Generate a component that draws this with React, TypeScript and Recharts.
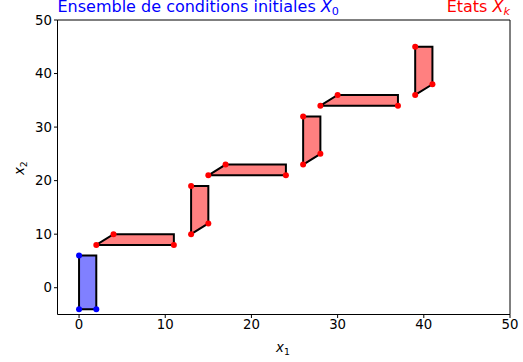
import React from 'react';
import { ScatterChart, Scatter, XAxis, YAxis, ReferenceLine } from 'recharts';

const xTicks = [0, 10, 20, 30, 40, 50];
const yTicks = [0, 10, 20, 30, 40, 50];
const xDomain: [number, number] = [-2.5, 50];
const yDomain: [number, number] = [-5, 50];

// Initial set X0
const initialSet = [
  { x: 0, y: -4 },
  { x: 2, y: -4 },
  { x: 2, y: 6 },
  { x: 0, y: 6 },
];
const initialVertices = [
  { x: 0, y: 6 },
  { x: 0, y: -4 },
  { x: 2, y: -4 },
];

// States Xk
const state1 = [{ x: 2, y: 8 }, { x: 4, y: 10 }, { x: 11, y: 10 }, { x: 11, y: 8 }];
const state2 = [{ x: 13, y: 10 }, { x: 13, y: 19 }, { x: 15, y: 19 }, { x: 15, y: 12 }];
const state3 = [{ x: 15, y: 21 }, { x: 17, y: 23 }, { x: 24, y: 23 }, { x: 24, y: 21 }];
const state4 = [{ x: 26, y: 23 }, { x: 26, y: 32 }, { x: 28, y: 32 }, { x: 28, y: 25 }];
const state5 = [{ x: 28, y: 34 }, { x: 30, y: 36 }, { x: 37, y: 36 }, { x: 37, y: 34 }];
const state6 = [{ x: 39, y: 36 }, { x: 39, y: 45 }, { x: 41, y: 45 }, { x: 41, y: 38 }];
const statePolygons = [state1, state2, state3, state4, state5, state6];

const vertices1 = [{ x: 2, y: 8 }, { x: 4, y: 10 }, { x: 11, y: 8 }];
const vertices2 = [{ x: 13, y: 19 }, { x: 13, y: 10 }, { x: 15, y: 12 }];
const vertices3 = [{ x: 15, y: 21 }, { x: 17, y: 23 }, { x: 24, y: 21 }];
const vertices4 = [{ x: 26, y: 32 }, { x: 26, y: 23 }, { x: 28, y: 25 }];
const vertices5 = [{ x: 28, y: 34 }, { x: 30, y: 36 }, { x: 37, y: 34 }];
const vertices6 = [{ x: 39, y: 45 }, { x: 39, y: 36 }, { x: 41, y: 38 }];
const stateVertices = [vertices1, vertices2, vertices3, vertices4, vertices5, vertices6];

const close = (pts: { x: number; y: number }[]) => [...pts, pts[0]];

const emptyShape = () => <g />;
const dotShape = (color: string) => (p: any) => (
  <circle cx={p.cx} cy={p.cy} r={3} fill={color} stroke="none" />
);

const FONT = 'DejaVu Sans, sans-serif';

export default function App() {
  const tickStyle = { fill: '#000', fontSize: 13.3, fontFamily: FONT };
  return (
    <div style={{ position: 'absolute', left: 0, top: 0, width: 523, height: 362, background: '#fff' }}>
      <ScatterChart
        width={523}
        height={362}
        margin={{ top: 20, right: 13, bottom: 17.5, left: 17.5 }}
      >
        <XAxis
          type="number"
          dataKey="x"
          domain={xDomain}
          ticks={xTicks}
          interval={0}
          height={30}
          tickSize={3.5}
          tickMargin={2}
          axisLine={{ stroke: '#000', strokeWidth: 1 }}
          tickLine={{ stroke: '#000', strokeWidth: 1 }}
          tick={tickStyle}
          allowDataOverflow
        />
        <YAxis
          type="number"
          dataKey="y"
          domain={yDomain}
          ticks={yTicks}
          interval={0}
          width={40}
          tickSize={3.5}
          tickMargin={2}
          axisLine={{ stroke: '#000', strokeWidth: 1 }}
          tickLine={{ stroke: '#000', strokeWidth: 1 }}
          tick={tickStyle}
          allowDataOverflow
        />
        <ReferenceLine y={50} stroke="#000" strokeWidth={1} ifOverflow="visible" />
        <ReferenceLine x={50} stroke="#000" strokeWidth={1} ifOverflow="visible" />
        <Scatter
          data={close(initialSet)}
          isAnimationActive={false}
          shape={emptyShape}
          line={{ stroke: '#000', strokeWidth: 2, fill: '#8080ff' }}
          lineType="joint"
        />
        <Scatter
          data={initialVertices}
          isAnimationActive={false}
          shape={dotShape('#0000ff')}
        />
        {statePolygons.map((poly, i) => (
          <Scatter
            key={'poly' + i}
            data={close(poly)}
            isAnimationActive={false}
            shape={emptyShape}
            line={{ stroke: '#000', strokeWidth: 2, fill: '#ff8080' }}
            lineType="joint"
          />
        ))}
        {stateVertices.map((pts, i) => (
          <Scatter
            key={'dots' + i}
            data={pts}
            isAnimationActive={false}
            shape={dotShape('#ff0000')}
          />
        ))}
      </ScatterChart>
      <svg
        width={523}
        height={362}
        style={{ position: 'absolute', left: 0, top: 0, pointerEvents: 'none' }}
      >
        <text x={57.5} y={12} fill="#0000ff" fontSize={16} fontFamily={FONT}>
          Ensemble de conditions initiales{' '}
          <tspan fontStyle="italic">X</tspan>
          <tspan fontSize={11.2} dy={3}>0</tspan>
        </text>
        <text x={510} y={12} fill="#ff0000" fontSize={16} fontFamily={FONT} textAnchor="end">
          Etats <tspan fontStyle="italic">X</tspan>
          <tspan fontSize={11.2} fontStyle="italic" dy={3}>k</tspan>
        </text>
        <text x={276} y={352} fill="#000" fontSize={13.3} fontFamily={FONT}>
          <tspan fontStyle="italic">x</tspan>
          <tspan fontSize={9.3} dy={2.5}>1</tspan>
        </text>
        <text
          transform="translate(24,175) rotate(-90)"
          fill="#000"
          fontSize={13.3}
          fontFamily={FONT}
        >
          <tspan fontStyle="italic">x</tspan>
          <tspan fontSize={9.3} dy={2.5}>2</tspan>
        </text>
      </svg>
    </div>
  );
}
